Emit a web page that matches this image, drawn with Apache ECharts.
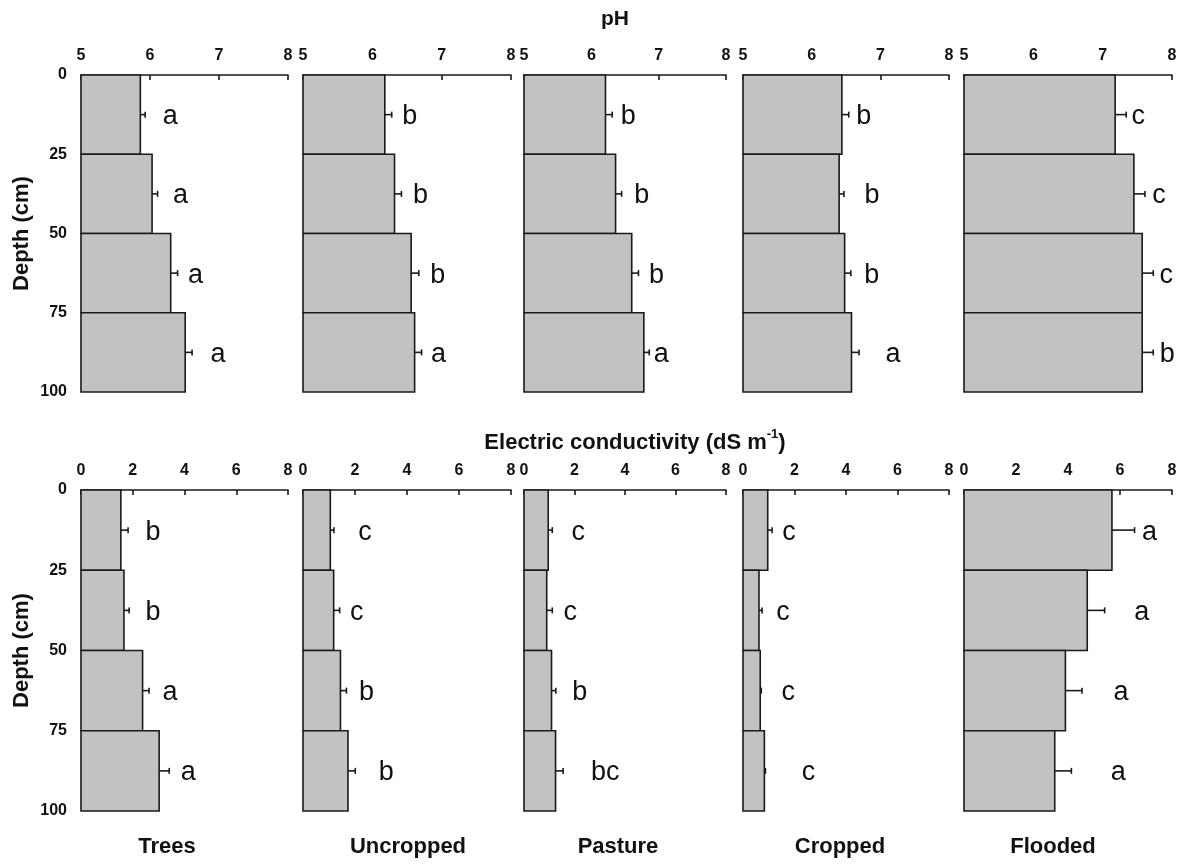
<!DOCTYPE html>
<html>
<head>
    <meta charset="utf-8" />
    <title>pH and EC by land use</title>
    <script src="https://cdn.jsdelivr.net/npm/echarts@6/dist/echarts.min.js"></script>
    <style type="text/css">
        * { margin: 0; padding: 0; }
        html, body { width: 100%; height: 100%; background: #fff; }
        #chart { width: 1186px; height: 866px; }
    </style>
</head>
<body>
    <div id="chart"></div>
</body>
</html>
<script type="text/javascript">
    // land uses (columns) and depth layers (cm)
    var landUses = ['Trees', 'Uncropped', 'Pasture', 'Cropped', 'Flooded'];
    var depthTop = [0, 25, 50, 75];
    var depthBottom = [25, 50, 75, 100];
    var depthTicks = [0, 25, 50, 75, 100];

    // pH means, std errors and letters, one row per land use
    var phMean = [
        [5.86, 6.03, 6.30, 6.51],
        [6.18, 6.32, 6.56, 6.61],
        [6.21, 6.36, 6.60, 6.78],
        [6.44, 6.40, 6.48, 6.58],
        [7.18, 7.45, 7.57, 7.57]
    ];
    var phErr = [
        [0.07, 0.08, 0.10, 0.10],
        [0.10, 0.10, 0.11, 0.10],
        [0.10, 0.09, 0.10, 0.08],
        [0.10, 0.07, 0.09, 0.11],
        [0.16, 0.16, 0.16, 0.16]
    ];
    var phLetters = [
        ['a', 'a', 'a', 'a'],
        ['b', 'b', 'b', 'a'],
        ['b', 'b', 'b', 'a'],
        ['b', 'b', 'b', 'a'],
        ['c', 'c', 'c', 'b']
    ];

    // electric conductivity (dS m-1)
    var ecMean = [
        [1.54, 1.66, 2.38, 3.02],
        [1.05, 1.18, 1.44, 1.73],
        [0.96, 0.90, 1.09, 1.25],
        [0.96, 0.62, 0.67, 0.83],
        [5.69, 4.74, 3.90, 3.49]
    ];
    var ecErr = [
        [0.28, 0.20, 0.25, 0.39],
        [0.14, 0.23, 0.23, 0.28],
        [0.16, 0.22, 0.17, 0.30],
        [0.17, 0.12, 0.04, 0.04],
        [0.87, 0.67, 0.64, 0.64]
    ];
    var ecLetters = [
        ['b', 'b', 'a', 'a'],
        ['c', 'c', 'b', 'b'],
        ['c', 'c', 'b', 'bc'],
        ['c', 'c', 'c', 'c'],
        ['a', 'a', 'a', 'a']
    ];

    // layout: px gap between error bar end and letter centre
    var phLetterGap = [[25, 23, 18, 26], [18, 19, 19, 17], [16, 20, 18, 12], [15, 28, 21, 34], [12, 14, 13, 14]];
    var ecLetterGap = [[25, 24, 21, 19], [31, 17, 20, 31], [26, 18, 24, 42], [17, 21, 27, 43], [15, 37, 39, 47]];

    var gridLeft = [81, 303, 524, 743, 964];
    var gridWidth = [207, 208, 202, 206, 208];
    var labelX = [167, 408, 618, 840, 1053];
    var FONT = '"Liberation Sans", Arial, sans-serif';

    var grids = [], xAxes = [], yAxes = [], series = [];

    function makeRender(xMin, gaps) {
        return function (params, api) {
            var v = api.value(0), d0 = api.value(1), d1 = api.value(2), e = api.value(3);
            var letter = api.value(4);
            var p0 = api.coord([xMin, d0]);
            var p1 = api.coord([v, d1]);
            var yMid = (p0[1] + p1[1]) / 2;
            var pe = api.coord([v + e, d0]);
            var lw = 1.6;
            return {
                type: 'group',
                children: [
                    {
                        type: 'rect',
                        shape: { x: p0[0], y: p0[1], width: p1[0] - p0[0], height: p1[1] - p0[1] },
                        style: { fill: '#c2c2c2', stroke: '#1a1a1a', lineWidth: lw }
                    },
                    {
                        type: 'line',
                        shape: { x1: p1[0], y1: yMid, x2: pe[0], y2: yMid },
                        style: { stroke: '#1a1a1a', lineWidth: lw }
                    },
                    {
                        type: 'line',
                        shape: { x1: pe[0], y1: yMid - 3, x2: pe[0], y2: yMid + 3 },
                        style: { stroke: '#1a1a1a', lineWidth: lw }
                    },
                    {
                        type: 'text',
                        style: {
                            text: letter, x: pe[0] + gaps[params.dataIndex], y: yMid + 2,
                            align: 'center', verticalAlign: 'middle',
                            font: '27px ' + FONT, fill: '#111'
                        }
                    }
                ]
            };
        };
    }

    function addRow(row, top, height, mean, err, letters, gaps, xMin, xMax, xInterval) {
        for (var c = 0; c < landUses.length; c++) {
            var idx = grids.length;
            grids.push({ left: gridLeft[c], top: top, width: gridWidth[c], height: height, outerBoundsMode: 'none' });
            xAxes.push({
                gridIndex: idx, type: 'value', position: 'top',
                min: xMin, max: xMax, interval: xInterval,
                axisLine: { show: true, lineStyle: { color: '#1a1a1a', width: 1.6 } },
                axisTick: { show: true, inside: true, length: 5, lineStyle: { color: '#1a1a1a', width: 1.6 } },
                axisLabel: { margin: 11, color: '#111', fontWeight: 'bold', fontSize: 16, fontFamily: FONT },
                splitLine: { show: false }
            });
            yAxes.push({
                gridIndex: idx, type: 'value', inverse: true,
                min: depthTicks[0], max: depthTicks[depthTicks.length - 1], interval: 25,
                axisLine: { show: false }, axisTick: { show: false }, splitLine: { show: false },
                axisLabel: { show: c === 0, margin: 14, color: '#111', fontWeight: 'bold', fontSize: 16, fontFamily: FONT },
                name: c === 0 ? 'Depth (cm)' : '',
                nameLocation: 'middle', nameGap: 48, nameRotate: 90,
                nameTextStyle: { color: '#111', fontWeight: 'bold', fontSize: 22, fontFamily: FONT }
            });
            var data = [];
            for (var i = 0; i < depthTop.length; i++) {
                data.push([mean[c][i], depthTop[i], depthBottom[i], err[c][i], letters[c][i]]);
            }
            series.push({
                type: 'custom', xAxisIndex: idx, yAxisIndex: idx,
                renderItem: makeRender(xMin, gaps[c]),
                encode: { x: 0, y: [1, 2] },
                data: data, clip: false, silent: true
            });
        }
    }

    addRow(0, 75, 317, phMean, phErr, phLetters, phLetterGap, 5, 8, 1);
    addRow(1, 490, 321, ecMean, ecErr, ecLetters, ecLetterGap, 0, 8, 2);

    var graphics = [
        {
            type: 'text', x: 615, y: 19,
            style: { text: 'pH', font: 'bold 21px ' + FONT, fill: '#111', align: 'center', verticalAlign: 'middle' }
        },
        {
            type: 'text', x: 635, y: 441,
            style: {
                text: '{m|Electric conductivity (dS m}{s|-1}{m|)}',
                align: 'center', verticalAlign: 'middle',
                rich: {
                    m: { font: 'bold 22px ' + FONT, fill: '#111', lineHeight: 26, verticalAlign: 'bottom' },
                    s: { font: 'bold 13px ' + FONT, fill: '#111', lineHeight: 26, verticalAlign: 'top' }
                }
            }
        }
    ];
    for (var k = 0; k < landUses.length; k++) {
        graphics.push({
            type: 'text', x: labelX[k], y: 847,
            style: { text: landUses[k], font: 'bold 22px ' + FONT, fill: '#111', align: 'center', verticalAlign: 'middle' }
        });
    }

    var myChart = echarts.init(document.getElementById('chart'));
    myChart.setOption({
        animation: false,
        backgroundColor: '#fff',
        grid: grids,
        xAxis: xAxes,
        yAxis: yAxes,
        series: series,
        graphic: graphics
    });
</script>
